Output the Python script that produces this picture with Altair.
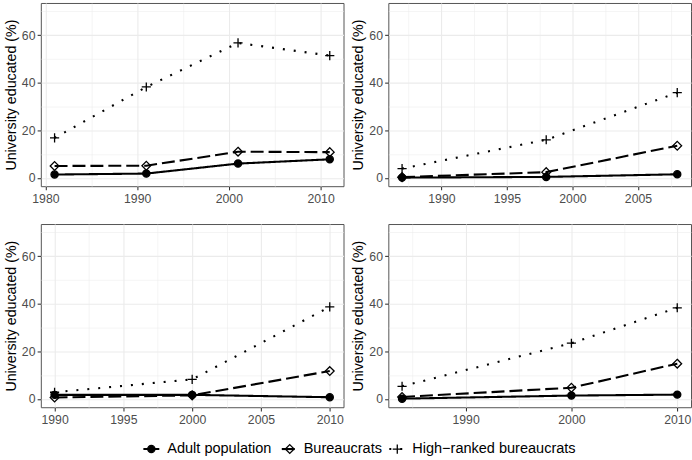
import altair as alt
import pandas as pd

SERIES = ["Adult population", "Bureaucrats", "High\u2212ranked bureaucrats"]

# Panel 1 (top-left)
p1_years = [1981, 1991, 2001, 2011]
p1_adult = [1.4, 1.8, 6.0, 7.8]
p1_bur = [5.0, 5.1, 11.0, 10.8]
p1_high = [16.8, 38.2, 56.7, 51.4]
p1_xticks = [1980, 1985, 1990, 1995, 2000, 2005, 2010]
p1_major = 10

# Panel 2 (top-right)
p2_years = [1987, 1998, 2008]
p2_adult = [0.1, 0.4, 1.5]
p2_bur = [0.3, 2.4, 13.5]
p2_high = [3.9, 16.0, 35.8]
p2_xticks = [1987.5, 1990, 1992.5, 1995, 1997.5, 2000, 2002.5, 2005, 2007.5]
p2_major = 5

# Panel 3 (bottom-left)
p3_years = [1990, 2000, 2010]
p3_adult = [1.7, 1.7, 0.7]
p3_bur = [0.6, 1.5, 11.7]
p3_high = [2.8, 8.2, 38.7]
p3_xticks = [1990, 1992.5, 1995, 1997.5, 2000, 2002.5, 2005, 2007.5, 2010]
p3_major = 5

# Panel 4 (bottom-right)
p4_years = [1984, 2000, 2010]
p4_adult = [0.1, 1.4, 1.8]
p4_bur = [0.8, 4.7, 14.8]
p4_high = [5.3, 23.4, 38.3]
p4_xticks = [1985, 1990, 1995, 2000, 2005, 2010]
p4_major = 10

y_ticks = [0, 10, 20, 30, 40, 50, 60, 70]
y_domain = [-3.5, 73.5]
Y_TITLE = "University educated (%)"

FONT = "Liberation Sans"

circle_p = "M-0.9,0A0.9,0.9 0 1,0 0.9,0A0.9,0.9 0 1,0 -0.9,0Z"
diamond_p = "M0,-1.1L1.1,0L0,1.1L-1.1,0Z"
plus_p = "M-1.15,0H1.15M0,-1.15V1.15"

shape_scale = alt.Scale(domain=SERIES, range=[circle_p, diamond_p, plus_p])
fill_scale = alt.Scale(domain=SERIES, range=["black", "transparent", "transparent"])
dash_scale = alt.Scale(domain=SERIES, range=[[1, 0], [13, 5], [2, 9]])

# legend key layout (pixel positions inside the legend strip)
key_x = [111, 250, 358]
label_x = [127, 264, 373]
key_half = 8


def panel(years, adult, bur, high, xticks, major):
    rows = []
    for name, vals in zip(SERIES, [adult, bur, high]):
        for yr, v in zip(years, vals):
            rows.append({"year": yr, "value": v, "series": name})
    df = pd.DataFrame(rows)
    span = max(years) - min(years)
    xdom = [min(years) - 0.05 * span, max(years) + 0.05 * span]
    xtest = f"datum.value % {major} === 0"
    x = alt.X(
        "year:Q",
        scale=alt.Scale(domain=xdom, nice=False, zero=False),
        axis=alt.Axis(
            values=xticks,
            format="d",
            title=None,
            labelExpr=f"{xtest} ? datum.label : ''",
            labelOverlap=False,
            labelFlush=False,
            tickOpacity={"condition": {"test": xtest, "value": 1}, "value": 0},
            gridWidth={"condition": {"test": xtest, "value": 1.1}, "value": 0.55},
        ),
    )
    ytest = "datum.value % 20 === 0"
    y = alt.Y(
        "value:Q",
        scale=alt.Scale(domain=y_domain, nice=False, zero=False),
        axis=alt.Axis(
            values=y_ticks,
            title=Y_TITLE,
            labelExpr=f"{ytest} ? datum.label : ''",
            labelOverlap=False,
            labelFlush=False,
            tickOpacity={"condition": {"test": ytest, "value": 1}, "value": 0},
            gridWidth={"condition": {"test": ytest, "value": 1.1}, "value": 0.55},
        ),
    )
    base = alt.Chart(df)
    line = base.mark_line(color="black", strokeWidth=2.1).encode(
        x=x,
        y=y,
        strokeDash=alt.StrokeDash("series:N", scale=dash_scale, legend=None),
    )
    pts = base.mark_point(stroke="black", strokeWidth=1.3, size=64, opacity=1).encode(
        x=x,
        y=y,
        shape=alt.Shape("series:N", scale=shape_scale, legend=None),
        fill=alt.Fill("series:N", scale=fill_scale, legend=None),
    )
    return alt.layer(line, pts).properties(width=304, height=184)


def legend_strip():
    ldf = pd.DataFrame({"series": SERIES})
    base = alt.Chart(ldf)
    layers = []
    for i, name in enumerate(SERIES):
        b = base.transform_filter(alt.datum.series == name)
        layers.append(
            b.mark_rule(color="black", strokeWidth=2.1).encode(
                x=alt.value(key_x[i] - key_half),
                x2=alt.value(key_x[i] + key_half),
                y=alt.value(8),
                strokeDash=alt.StrokeDash("series:N", scale=dash_scale, legend=None),
            )
        )
        layers.append(
            b.mark_point(stroke="black", strokeWidth=1.3, size=64, opacity=1).encode(
                x=alt.value(key_x[i]),
                y=alt.value(8),
                shape=alt.Shape("series:N", scale=shape_scale, legend=None),
                fill=alt.Fill("series:N", scale=fill_scale, legend=None),
            )
        )
        layers.append(
            b.mark_text(align="left", baseline="middle", fontSize=14.6, font=FONT, color="black").encode(
                x=alt.value(label_x[i]),
                y=alt.value(8),
                text="series:N",
            )
        )
    return alt.layer(*layers).properties(
        width=600, height=16, view=alt.ViewBackground(stroke="transparent")
    )


c1 = panel(p1_years, p1_adult, p1_bur, p1_high, p1_xticks, p1_major)
c2 = panel(p2_years, p2_adult, p2_bur, p2_high, p2_xticks, p2_major)
c3 = panel(p3_years, p3_adult, p3_bur, p3_high, p3_xticks, p3_major)
c4 = panel(p4_years, p4_adult, p4_bur, p4_high, p4_xticks, p4_major)


def shared(c):
    return c.resolve_scale(
        x="independent", y="independent", shape="shared", fill="shared", strokeDash="shared"
    )


top = shared(alt.hconcat(c1, c2, spacing=6))
bottom = shared(alt.hconcat(c3, c4, spacing=6))
grid = shared(alt.vconcat(top, bottom, spacing=18))

chart = (
    shared(alt.vconcat(grid, legend_strip(), spacing=14))
    .properties(padding={"left": 3, "top": 1, "right": 0, "bottom": 0}, background="white")
    .configure_view(stroke="#555555", strokeWidth=1)
    .configure_axis(
        labelFont=FONT,
        labelFontSize=12.3,
        labelColor="#4D4D4D",
        labelPadding=2.2,
        titleFont=FONT,
        titleFontSize=14.3,
        titleFontWeight="normal",
        titleColor="black",
        titlePadding=3,
        tickColor="#333333",
        tickSize=3.7,
        tickWidth=1.07,
        domain=False,
        gridColor="#EBEBEB",
    )
)

chart.save("out.html", embed_options={"renderer": "svg", "actions": False})
